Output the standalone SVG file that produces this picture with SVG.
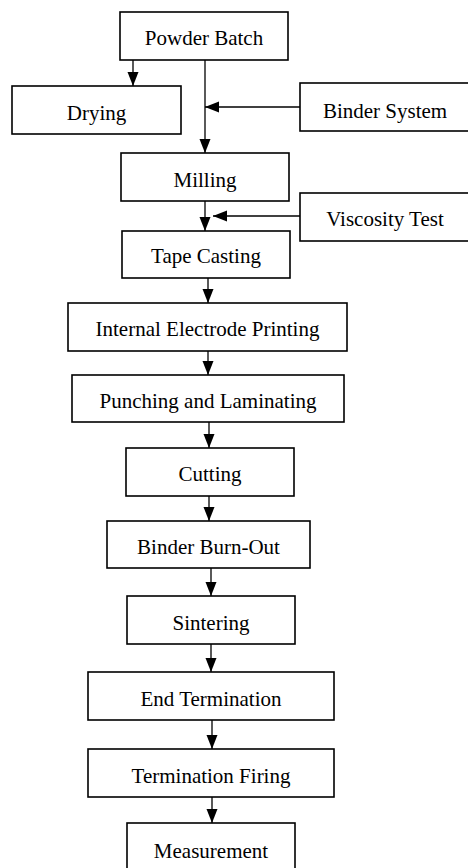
<svg xmlns="http://www.w3.org/2000/svg" width="468" height="868" viewBox="0 0 468 868">
<defs>
<marker id="ah" markerUnits="userSpaceOnUse" markerWidth="14" markerHeight="12" refX="14" refY="6" orient="auto">
<path d="M0,0.5 L14,6 L0,11.5 z" fill="#000"/>
</marker>
<style>
.box{fill:#fff;stroke:#000;stroke-width:1.6}
.lbl{font-family:"Liberation Serif","Times New Roman",serif;font-size:21px;fill:#000;text-anchor:middle}
.ln{fill:none;stroke:#000;stroke-width:1.3;marker-end:url(#ah)}
</style>
</defs>
<rect width="468" height="868" fill="#fff"/>
<g id="connectors">
<line class="ln" x1="133" y1="60" x2="133" y2="86"/>
<line class="ln" x1="205" y1="60" x2="205" y2="153"/>
<line class="ln" x1="300" y1="107" x2="205" y2="107"/>
<line class="ln" x1="205" y1="201" x2="205" y2="231"/>
<line class="ln" x1="300" y1="216" x2="213" y2="216"/>
<line class="ln" x1="208" y1="278" x2="208" y2="303"/>
<line class="ln" x1="208" y1="351" x2="208" y2="375"/>
<line class="ln" x1="209" y1="422" x2="209" y2="448"/>
<line class="ln" x1="209" y1="496" x2="209" y2="521"/>
<line class="ln" x1="211" y1="568" x2="211" y2="596"/>
<line class="ln" x1="211" y1="644" x2="211" y2="672"/>
<line class="ln" x1="212" y1="720" x2="212" y2="749"/>
<line class="ln" x1="212" y1="797" x2="212" y2="823"/>
</g>
<g id="powder-batch"><rect class="box" x="120" y="12" width="168" height="48"/><text class="lbl" x="204" y="45">Powder Batch</text></g>
<g id="drying"><rect class="box" x="12" y="86" width="169" height="48"/><text class="lbl" x="96.5" y="120">Drying</text></g>
<g id="binder-system"><rect class="box" x="300" y="83" width="180" height="48"/><text class="lbl" x="385" y="118">Binder System</text></g>
<g id="milling"><rect class="box" x="121" y="153" width="168" height="48"/><text class="lbl" x="205" y="187">Milling</text></g>
<g id="viscosity-test"><rect class="box" x="300" y="193" width="180" height="48"/><text class="lbl" x="385" y="226">Viscosity Test</text></g>
<g id="tape-casting"><rect class="box" x="122" y="231" width="168" height="47"/><text class="lbl" x="206" y="263">Tape Casting</text></g>
<g id="internal-electrode-printing"><rect class="box" x="68" y="303" width="279" height="48"/><text class="lbl" x="207.5" y="336">Internal Electrode Printing</text></g>
<g id="punching-laminating"><rect class="box" x="72" y="375" width="272" height="47"/><text class="lbl" x="208" y="408">Punching and Laminating</text></g>
<g id="cutting"><rect class="box" x="126" y="448" width="168" height="48"/><text class="lbl" x="210" y="481">Cutting</text></g>
<g id="binder-burn-out"><rect class="box" x="107" y="521" width="203" height="47"/><text class="lbl" x="208.5" y="554">Binder Burn-Out</text></g>
<g id="sintering"><rect class="box" x="127" y="596" width="168" height="48"/><text class="lbl" x="211" y="630">Sintering</text></g>
<g id="end-termination"><rect class="box" x="88" y="672" width="246" height="48"/><text class="lbl" x="211" y="706">End Termination</text></g>
<g id="termination-firing"><rect class="box" x="88" y="749" width="246" height="48"/><text class="lbl" x="211" y="783">Termination Firing</text></g>
<g id="measurement"><rect class="box" x="127" y="823" width="168" height="60"/><text class="lbl" x="211" y="858">Measurement</text></g>
</svg>
